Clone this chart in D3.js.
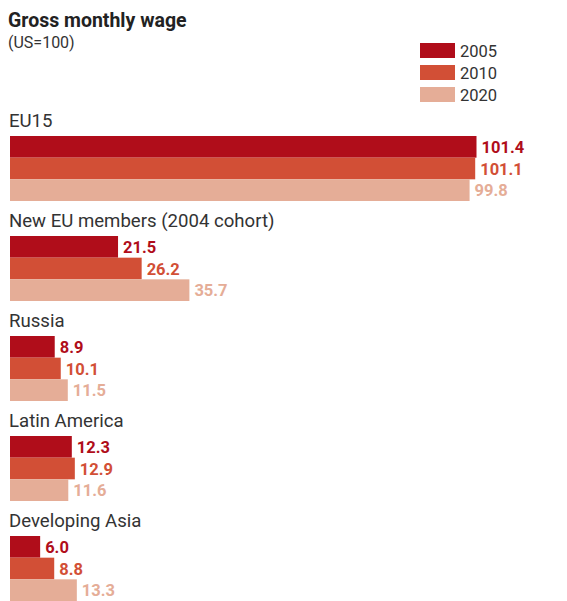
<!DOCTYPE html>
<html>
<head>
<meta charset="utf-8">
<script src="https://cdn.jsdelivr.net/npm/d3@7"></script>
<style>
  body { margin: 0; background: #fff; }
  text { font-family: Roboto, "Open Sans", sans-serif; }
</style>
</head>
<body>
<svg width="567" height="601"></svg>
<script>
var categories = ["EU15", "New EU members (2004 cohort)", "Russia", "Latin America", "Developing Asia"];
var years = ["2005", "2010", "2020"];
var v2005 = [101.4, 21.5, 8.9, 12.3, 6.0];
var v2010 = [101.1, 26.2, 10.1, 12.9, 8.8];
var v2020 = [99.8, 35.7, 11.5, 11.6, 13.3];
var colors = ["#b00d1a", "#d24f36", "#e5ad97"];

var svg = d3.select("svg");

var series = [v2005, v2010, v2020];

// the long EU15 bars are squeezed in the original, so the axis is compressed above 40
var x = d3.scaleLinear().domain([0, 40, 101.4]).range([10, 211, 476.5]);
var yGroup = d3.scaleBand().domain(categories).range([105, 605]);
var yBar = d3.scaleBand().domain(years).range([31, 96]);
var color = d3.scaleOrdinal().domain(years).range(colors);

// title
svg.append("text")
    .attr("x", 8).attr("y", 27)
    .attr("font-size", 19.5).attr("font-weight", "bold")
    .attr("fill", "#222")
    .text("Gross monthly wage");
svg.append("text")
    .attr("x", 8).attr("y", 48)
    .attr("font-size", 16)
    .attr("fill", "#333")
    .text("(US=100)");

// legend
var legend = svg.append("g").attr("transform", "translate(420,43)");
var li = legend.selectAll("g").data(years).enter().append("g")
    .attr("transform", function(d, i) { return "translate(0," + (i * 22) + ")"; });
li.append("rect").attr("width", 35).attr("height", 15)
    .attr("fill", function(d) { return color(d); });
li.append("text").attr("x", 40).attr("y", 14)
    .attr("font-size", 16.5).attr("fill", "#333")
    .text(function(d) { return d; });

var groups = svg.selectAll("g.cat")
    .data(categories)
    .enter().append("g")
    .attr("class", "cat")
    .attr("transform", function(d) { return "translate(0," + yGroup(d) + ")"; });

groups.append("text")
    .attr("x", 9).attr("y", 22)
    .attr("font-size", 18.6).attr("fill", "#333")
    .text(function(d) { return d; });

groups.each(function(cat, ci) {
    var g = d3.select(this);
    var rows = years.map(function(yr, i) { return {year: yr, value: series[i][ci]}; });
    g.selectAll("rect")
        .data(rows)
        .enter().append("rect")
        .attr("x", x(0))
        .attr("y", function(d) { return yBar(d.year); })
        .attr("width", function(d) { return x(d.value) - x(0); })
        .attr("height", yBar.bandwidth())
        .attr("fill", function(d) { return color(d.year); });
    g.selectAll("text.val")
        .data(rows)
        .enter().append("text")
        .attr("class", "val")
        .attr("x", function(d) { return x(d.value) + 5; })
        .attr("y", function(d) { return yBar(d.year) + yBar.bandwidth() / 2 + 6; })
        .attr("font-size", 16.5).attr("font-weight", "bold")
        .attr("fill", function(d) { return color(d.year); })
        .text(function(d) { return d.value.toFixed(1); });
});
</script>
</body>
</html>
